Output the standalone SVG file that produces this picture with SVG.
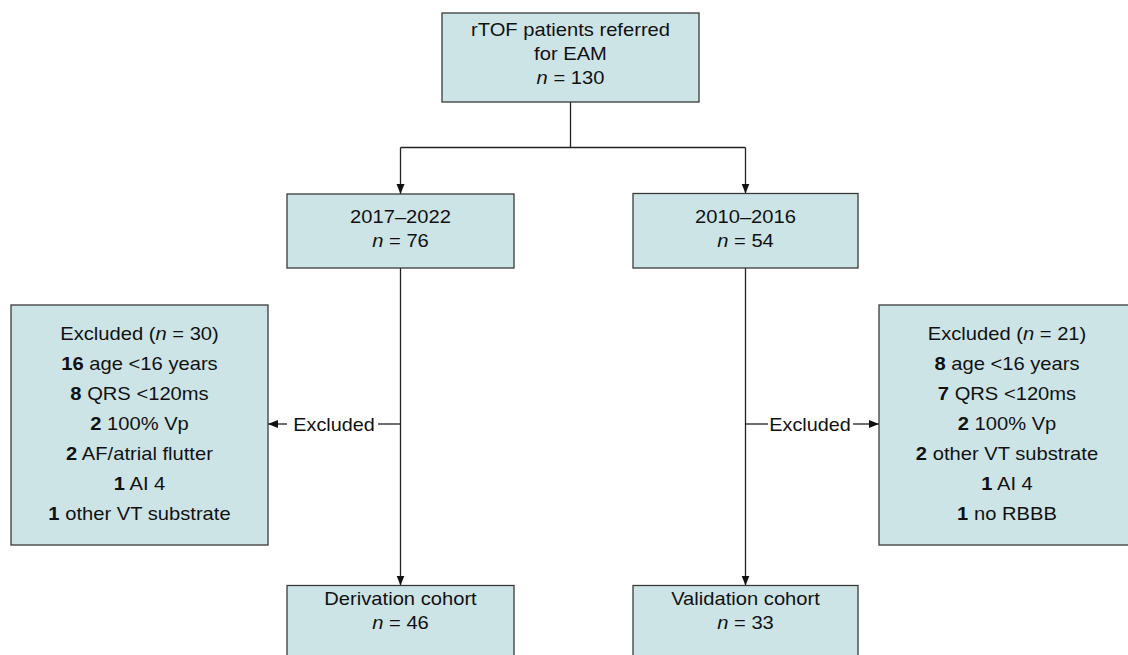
<svg xmlns="http://www.w3.org/2000/svg" width="1128" height="655" viewBox="0 0 1128 655">
<style>
.box{fill:#cde4e7;stroke:#3a3a3a;stroke-width:1.3}
.ln{fill:none;stroke:#222;stroke-width:1.3}
text{font-family:"Liberation Sans",Arial,sans-serif;font-size:18px;fill:#111;text-anchor:middle}
.b{font-weight:bold}
.i{font-style:italic}
</style>
<defs>
<marker id="ah" markerUnits="userSpaceOnUse" markerWidth="10" markerHeight="10" viewBox="0 0 10 10" refX="10" refY="5" orient="auto">
<path d="M0,1 L10,5 L0,9 Z" fill="#111"/>
</marker>
</defs>
<rect width="1128" height="655" fill="#fff"/>
<g id="connectors">
<path class="ln" d="M570.5,102 V147.5"/>
<path class="ln" d="M400.5,147.5 H745.5"/>
<path class="ln" d="M400.5,147.5 V194" marker-end="url(#ah)"/>
<path class="ln" d="M745.5,147.5 V193.5" marker-end="url(#ah)"/>
<path class="ln" d="M400.5,268 V585.5" marker-end="url(#ah)"/>
<path class="ln" d="M745.5,268 V585.5" marker-end="url(#ah)"/>
<path class="ln" d="M400.5,424 H378"/>
<path class="ln" d="M287,424 H268" marker-end="url(#ah)"/>
<path class="ln" d="M745.5,424 H768"/>
<path class="ln" d="M853,424 H879" marker-end="url(#ah)"/>
<text transform="translate(334,0) scale(1.1,1)" y="431.5">Excluded</text>
<text transform="translate(810,0) scale(1.1,1)" y="431.5">Excluded</text>
</g>
<g id="n-top">
<rect class="box" x="442" y="13" width="257" height="89"/>
<text transform="translate(570.5,0) scale(1.12,1)"><tspan x="0" y="36">rTOF patients referred</tspan><tspan x="0" y="60">for EAM</tspan><tspan x="0" y="84"><tspan class="i">n</tspan> = 130</tspan></text>
</g>
<g id="n-2017">
<rect class="box" x="287" y="194" width="227" height="74"/>
<text transform="translate(400.5,0) scale(1.12,1)"><tspan x="0" y="223">2017–2022</tspan><tspan x="0" y="247"><tspan class="i">n</tspan> = 76</tspan></text>
</g>
<g id="n-2010">
<rect class="box" x="633" y="193.5" width="225" height="74.5"/>
<text transform="translate(745.5,0) scale(1.12,1)"><tspan x="0" y="223">2010–2016</tspan><tspan x="0" y="247"><tspan class="i">n</tspan> = 54</tspan></text>
</g>
<g id="n-excl-left">
<rect class="box" x="11" y="305" width="257" height="240"/>
<text transform="translate(139.5,0) scale(1.12,1)"><tspan x="0" y="340">Excluded (<tspan class="i">n</tspan> = 30)</tspan><tspan x="0" y="370"><tspan class="b">16</tspan> age &lt;16 years</tspan><tspan x="0" y="400"><tspan class="b">8</tspan> QRS &lt;120ms</tspan><tspan x="0" y="430"><tspan class="b">2</tspan> 100% Vp</tspan><tspan x="0" y="460"><tspan class="b">2</tspan> AF/atrial flutter</tspan><tspan x="0" y="490"><tspan class="b">1</tspan> AI 4</tspan><tspan x="0" y="520"><tspan class="b">1</tspan> other VT substrate</tspan></text>
</g>
<g id="n-excl-right">
<rect class="box" x="879" y="305" width="257" height="240"/>
<text transform="translate(1007,0) scale(1.12,1)"><tspan x="0" y="340">Excluded (<tspan class="i">n</tspan> = 21)</tspan><tspan x="0" y="370"><tspan class="b">8</tspan> age &lt;16 years</tspan><tspan x="0" y="400"><tspan class="b">7</tspan> QRS &lt;120ms</tspan><tspan x="0" y="430"><tspan class="b">2</tspan> 100% Vp</tspan><tspan x="0" y="460"><tspan class="b">2</tspan> other VT substrate</tspan><tspan x="0" y="490"><tspan class="b">1</tspan> AI 4</tspan><tspan x="0" y="520"><tspan class="b">1</tspan> no RBBB</tspan></text>
</g>
<g id="n-derivation">
<rect class="box" x="287" y="585.5" width="227" height="80"/>
<text transform="translate(400.5,0) scale(1.12,1)"><tspan x="0" y="605">Derivation cohort</tspan><tspan x="0" y="629"><tspan class="i">n</tspan> = 46</tspan></text>
</g>
<g id="n-validation">
<rect class="box" x="633" y="585.5" width="225" height="80"/>
<text transform="translate(745.5,0) scale(1.12,1)"><tspan x="0" y="605">Validation cohort</tspan><tspan x="0" y="629"><tspan class="i">n</tspan> = 33</tspan></text>
</g>
</svg>
